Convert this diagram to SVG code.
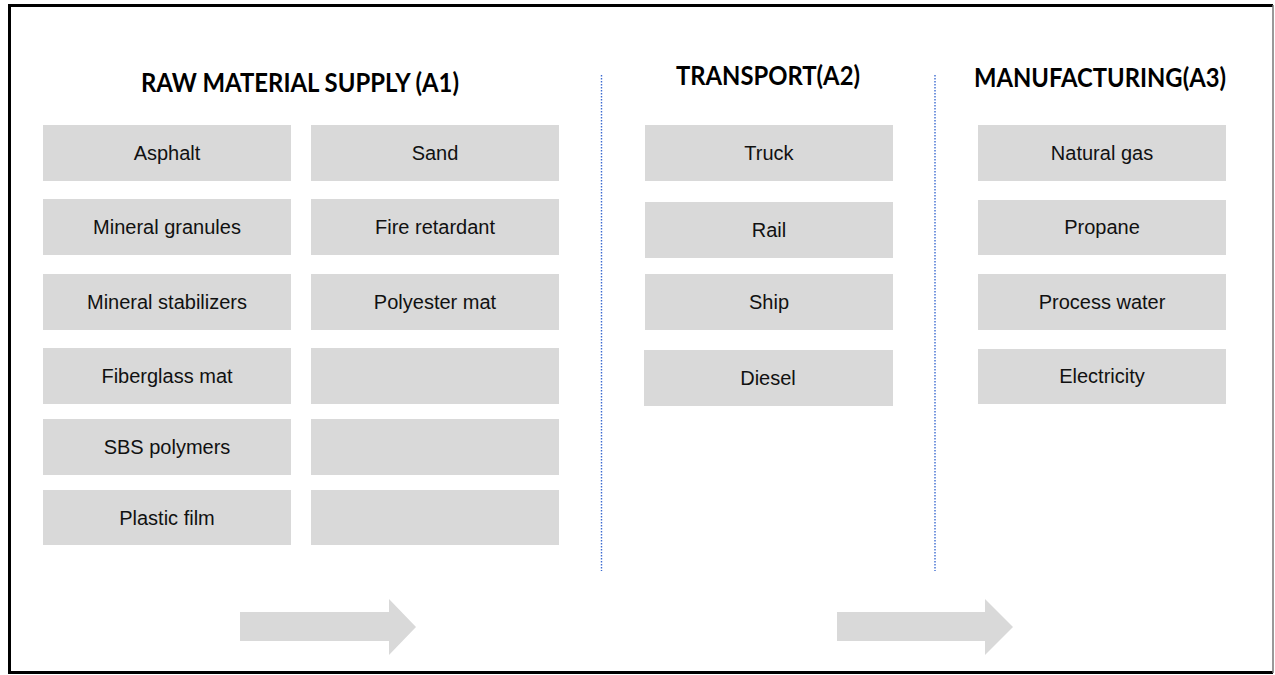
<svg xmlns="http://www.w3.org/2000/svg" width="1275" height="675" viewBox="0 0 1275 675">
<style>
.box{fill:#D9D9D9}
.lbl{font-family:"Liberation Sans",Arial,sans-serif;font-size:20px;fill:#111;text-anchor:middle}
.hd{font-family:Lato,"Open Sans",sans-serif;font-weight:bold;font-size:27px;fill:#000;text-anchor:middle}
.sep{stroke:#3C6BD0;stroke-width:1.4;stroke-dasharray:1.5 1.5;fill:none}
.arr{fill:#D9D9D9}
</style>
<rect width="1275" height="675" fill="#fff"/>
<g id="frame">
<path d="M1273 5.5 H9.5 V672.5 H1273" fill="none" stroke="#000" stroke-width="3"/>
<line x1="1273" y1="5" x2="1273" y2="673" stroke="#777" stroke-width="1.5"/>
</g>
<g id="headings">
<text class="hd" x="300" y="92" textLength="318" lengthAdjust="spacingAndGlyphs">RAW MATERIAL SUPPLY (A1)</text>
<text class="hd" x="768" y="85" textLength="184" lengthAdjust="spacingAndGlyphs">TRANSPORT(A2)</text>
<text class="hd" x="1100" y="87" textLength="252" lengthAdjust="spacingAndGlyphs">MANUFACTURING(A3)</text>
</g>
<g id="separators">
<line class="sep" x1="601.5" y1="75" x2="601.5" y2="571"/>
<line class="sep" x1="935" y1="75" x2="935" y2="571"/>
</g>
<g id="a1-asphalt"><rect class="box" x="43" y="125" width="248" height="56"/><text class="lbl" x="167" y="160">Asphalt</text></g>
<g id="a1-mineral-granules"><rect class="box" x="43" y="199" width="248" height="56"/><text class="lbl" x="167" y="234">Mineral granules</text></g>
<g id="a1-mineral-stabilizers"><rect class="box" x="43" y="274" width="248" height="56"/><text class="lbl" x="167" y="309">Mineral stabilizers</text></g>
<g id="a1-fiberglass-mat"><rect class="box" x="43" y="348" width="248" height="56"/><text class="lbl" x="167" y="383">Fiberglass mat</text></g>
<g id="a1-sbs-polymers"><rect class="box" x="43" y="419" width="248" height="56"/><text class="lbl" x="167" y="454">SBS polymers</text></g>
<g id="a1-plastic-film"><rect class="box" x="43" y="490" width="248" height="55"/><text class="lbl" x="167" y="525">Plastic film</text></g>
<g id="a1-sand"><rect class="box" x="311" y="125" width="248" height="56"/><text class="lbl" x="435" y="160">Sand</text></g>
<g id="a1-fire-retardant"><rect class="box" x="311" y="199" width="248" height="56"/><text class="lbl" x="435" y="234">Fire retardant</text></g>
<g id="a1-polyester-mat"><rect class="box" x="311" y="274" width="248" height="56"/><text class="lbl" x="435" y="309">Polyester mat</text></g>
<g id="a1-empty-1"><rect class="box" x="311" y="348" width="248" height="56"/></g>
<g id="a1-empty-2"><rect class="box" x="311" y="419" width="248" height="56"/></g>
<g id="a1-empty-3"><rect class="box" x="311" y="490" width="248" height="55"/></g>
<g id="a2-truck"><rect class="box" x="645" y="125" width="248" height="56"/><text class="lbl" x="769" y="160">Truck</text></g>
<g id="a2-rail"><rect class="box" x="645" y="202" width="248" height="56"/><text class="lbl" x="769" y="237">Rail</text></g>
<g id="a2-ship"><rect class="box" x="645" y="274" width="248" height="56"/><text class="lbl" x="769" y="309">Ship</text></g>
<g id="a2-diesel"><rect class="box" x="644" y="350" width="249" height="56"/><text class="lbl" x="768" y="385">Diesel</text></g>
<g id="a3-natural-gas"><rect class="box" x="978" y="125" width="248" height="56"/><text class="lbl" x="1102" y="160">Natural gas</text></g>
<g id="a3-propane"><rect class="box" x="978" y="200" width="248" height="55"/><text class="lbl" x="1102" y="234">Propane</text></g>
<g id="a3-process-water"><rect class="box" x="978" y="274" width="248" height="56"/><text class="lbl" x="1102" y="309">Process water</text></g>
<g id="a3-electricity"><rect class="box" x="978" y="349" width="248" height="55"/><text class="lbl" x="1102" y="383">Electricity</text></g>
<g id="connectors">
<polygon class="arr" points="240,612 389,612 389,599 416,627 389,655 389,641 240,641"/>
<polygon class="arr" points="837,612 985,612 985,599 1013,627 985,655 985,641 837,641"/>
</g>
</svg>
